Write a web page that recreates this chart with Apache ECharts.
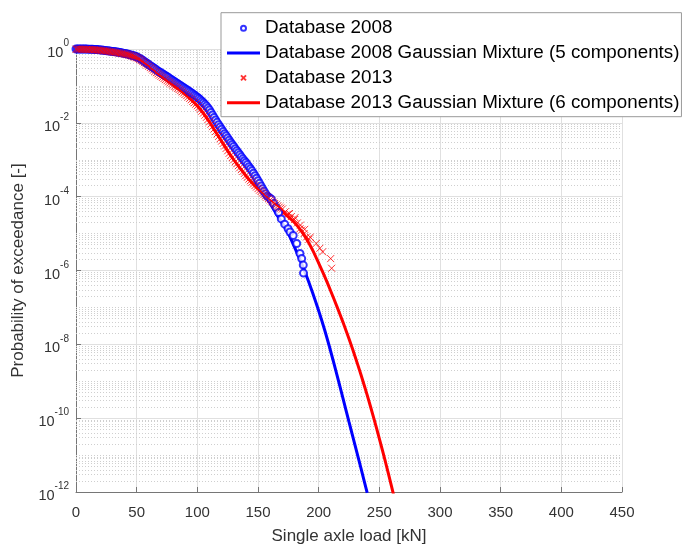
<!DOCTYPE html>
<html>
<head>
<meta charset="utf-8">
<script src="https://cdn.jsdelivr.net/npm/echarts@6/dist/echarts.min.js"></script>
<style>
html,body{margin:0;padding:0;background:#fff;}
#c{width:684px;height:550px;}
</style>
</head>
<body>
<div id="c"></div>
<script>
// ---- Data ----
const seriesNames = [
  'Database 2008',
  'Database 2008 Gaussian Mixture (5 components)',
  'Database 2013',
  'Database 2013 Gaussian Mixture (6 components)'
];

const xTicks = [0, 50, 100, 150, 200, 250, 300, 350, 400, 450];
const yTickExponents = [-12, -10, -8, -6, -4, -2, 0];

// Database 2008 empirical exceedance
const load2008 = [0,1.25,2.5,3.75,5,6.25,7.5,8.75,10,11.25,12.5,13.75,15,16.25,17.5,18.75,20,21.25,22.5,23.75,
  25,26.25,27.5,28.75,30,31.25,32.5,33.75,35,36.25,37.5,38.75,40,41.25,42.5,43.75,45,46.25,47.5,48.75,
  50,51.25,52.5,53.75,55,56.25,57.5,58.75,60,61.25,62.5,63.75,65,66.25,67.5,68.75,70,71.25,72.5,73.75,
  75,76.25,77.5,78.75,80,81.25,82.5,83.75,85,86.25,87.5,88.75,90,91.25,92.5,93.75,95,96.25,97.5,98.75,
  100,101.25,102.5,103.75,105,106.25,107.5,108.75,110,111.25,112.5,113.75,115,116.25,117.5,118.75,120,121.25,122.5,123.75,
  125,126.25,127.5,128.75,130,131.25,132.5,133.75,135,136.25,137.5,138.75,140,141.25,142.5,143.75,145,146.25,147.5,148.75,
  150,151.25,152.5,153.75,155,156.25,157.5,158.75,160,
  161,163,165,167,169.2,172,174.8,176.4,179,181.9,184.6,186,187.3,187.5];
const prob2008 = [1,1,1,1,1,0.999,0.998,0.995,0.992,0.989,
  0.985,0.98,0.975,0.969,0.962,0.954,0.946,0.936,0.925,0.914,
  0.903,0.893,0.882,0.871,0.86,0.849,0.838,0.825,0.812,0.8,
  0.787,0.773,0.758,0.743,0.728,0.71,0.69,0.673,0.655,0.635,
  0.612,0.585,0.555,0.525,0.495,0.462,0.432,0.404,0.378,0.353,
  0.33,0.31,0.29,0.272,0.255,0.24,0.226,0.213,0.2,0.189,
  0.179,0.168,0.157,0.148,0.139,0.13,0.122,0.115,0.108,0.101,
  0.095,0.089,0.084,0.079,0.074,0.069,0.065,0.061,0.057,0.053,
  0.0495,0.0457,0.042,0.0384,0.035,0.0317,0.0285,0.0252,0.0222,0.0191,
  0.0163,0.0139,0.0119,0.0103,0.0089,0.0077,0.0067,0.0058,0.0051,0.0045,
  0.0039,0.0034,0.00295,0.0026,0.0023,0.002,0.00175,0.00155,0.00137,0.0012,
  0.00106,9.4e-4,8.4e-4,7.4e-4,6.5e-4,5.7e-4,5.0e-4,4.3e-4,3.7e-4,3.15e-4,
  2.7e-4,2.3e-4,1.95e-4,1.65e-4,1.4e-4,1.2e-4,1.05e-4,9.7e-5,9.0e-5,
  8.5e-5,6.5e-5,5.1e-5,3.7e-5,2.5e-5,1.8e-5,1.35e-5,1.1e-5,8.9e-6,5.4e-6,2.9e-6,2.1e-6,1.4e-6,8.5e-7];

// Database 2008 Gaussian mixture fit (5 components)
const fitLoad2008 = [0,5,10,15,20,25,30,35,40,45,50,55,60,65,70,75,80,85,90,95,100,105,110,115,120,
  125,130,135,140,145,150,155,160,165,170,175,180,185,190,195,200,205,210,215,220,225,230,235,240];
const fitProb2008 = [1,1,0.989,0.973,0.944,0.902,0.861,0.813,0.759,0.692,0.617,0.490,0.380,0.288,0.224,0.178,0.138,0.107,0.0832,0.0646,
  0.0490,0.0347,0.0219,0.0117,0.0066,0.0038,0.00224,0.00135,8.3e-4,5.0e-4,2.63e-4,1.32e-4,6.6e-5,3.47e-5,1.91e-5,1.0e-5,
  4.37e-6,1.82e-6,7.1e-7,2.5e-7,8.1e-8,2.4e-8,6.3e-9,1.51e-9,3.5e-10,7.9e-11,1.82e-11,4.2e-12,9.5e-13];

// Database 2013 empirical exceedance
const load2013 = [0,1.25,2.5,3.75,5,6.25,7.5,8.75,10,11.25,12.5,13.75,15,16.25,17.5,18.75,20,21.25,22.5,23.75,
  25,26.25,27.5,28.75,30,31.25,32.5,33.75,35,36.25,37.5,38.75,40,41.25,42.5,43.75,45,46.25,47.5,48.75,
  50,51.25,52.5,53.75,55,56.25,57.5,58.75,60,61.25,62.5,63.75,65,66.25,67.5,68.75,70,71.25,72.5,73.75,
  75,76.25,77.5,78.75,80,81.25,82.5,83.75,85,86.25,87.5,88.75,90,91.25,92.5,93.75,95,96.25,97.5,98.75,
  100,101.25,102.5,103.75,105,106.25,107.5,108.75,110,111.25,112.5,113.75,115,116.25,117.5,118.75,120,121.25,122.5,123.75,
  125,126.25,127.5,128.75,130,131.25,132.5,133.75,135,136.25,137.5,138.75,140,141.25,142.5,143.75,145,146.25,147.5,148.75,
  150,151.25,152.5,153.75,155,156.25,157.5,158.75,160,161.25,162.5,163.75,165,166.25,167.5,168.75,170,
  172.5,175,176,177.5,180,180.5,182.5,184.6,185,186,188,188.5,190,192,193,198,201,203.3,209.9,210.7];
const prob2013 = [0.99,0.99,0.99,0.988,0.985,0.982,0.978,0.975,0.972,0.969,
  0.965,0.96,0.955,0.948,0.94,0.931,0.922,0.912,0.902,0.891,
  0.88,0.869,0.857,0.845,0.832,0.82,0.808,0.796,0.784,0.772,
  0.76,0.746,0.732,0.716,0.7,0.683,0.665,0.645,0.625,0.602,
  0.578,0.55,0.52,0.488,0.455,0.425,0.395,0.366,0.34,0.314,
  0.29,0.267,0.246,0.228,0.211,0.196,0.182,0.17,0.158,0.148,
  0.138,0.129,0.121,0.113,0.105,0.098,0.092,0.086,0.08,0.0745,
  0.069,0.064,0.059,0.0545,0.05,0.046,0.042,0.0384,0.035,0.032,
  0.029,0.026,0.0232,0.0206,0.0183,0.0161,0.0141,0.0123,0.0106,0.0092,
  0.0079,0.0068,0.0058,0.005,0.0043,0.0037,0.0032,0.00275,0.00236,0.00203,
  0.00175,0.0015,0.0013,0.00114,0.001,8.8e-4,7.8e-4,6.9e-4,6.1e-4,5.4e-4,
  4.8e-4,4.25e-4,3.75e-4,3.35e-4,3.0e-4,2.7e-4,2.45e-4,2.2e-4,2.0e-4,1.82e-4,
  1.65e-4,1.5e-4,1.38e-4,1.26e-4,1.15e-4,1.05e-4,9.7e-5,8.9e-5,8.2e-5,7.6e-5,
  7.0e-5,6.5e-5,6.0e-5,5.6e-5,5.2e-5,4.9e-5,4.6e-5,
  3.9e-5,3.4e-5,3.5e-5,2.9e-5,2.4e-5,2.7e-5,1.95e-5,1.35e-5,1.7e-5,1.25e-5,1.0e-5,1.3e-5,8.1e-6,7.0e-6,8.0e-6,5.4e-6,4.0e-6,3.2e-6,2.1e-6,1.15e-6];

// Database 2013 Gaussian mixture fit (6 components)
const fitLoad2013 = [0,5,10,15,20,25,30,35,40,45,50,55,60,65,70,75,80,85,90,95,100,105,110,115,120,
  125,130,135,140,145,150,155,160,165,170,175,180,185,190,195,200,205,210,215,220,225,230,235,240,245,250,255,260,265];
const fitProb2013 = [0.989,0.982,0.973,0.955,0.923,0.881,0.832,0.785,0.733,0.668,0.582,0.457,0.339,0.245,0.182,0.138,0.105,0.0794,0.0589,0.0417,
  0.0288,0.0182,0.0105,0.00575,0.00316,0.00174,0.0010,6.0e-4,3.7e-4,2.4e-4,1.62e-4,1.12e-4,7.9e-5,5.6e-5,3.98e-5,2.82e-5,2.0e-5,1.26e-5,
  7.1e-6,3.55e-6,1.58e-6,6.8e-7,2.75e-7,1.07e-7,4.0e-8,1.41e-8,4.7e-9,1.45e-9,4.2e-10,1.12e-10,2.8e-11,6.6e-12,1.45e-12,3.0e-13];

// ---- Build chart ----
function pairs(xs, ys){
  const n = Math.min(xs.length, ys.length);
  const out = [];
  for (let i = 0; i < n; i++) out.push([xs[i], ys[i]]);
  return out;
}

const xMin = xTicks[0], xMax = xTicks[xTicks.length - 1];

// minor dotted grid positions on the log axis (m x 10^k, skipping labelled decades)
const minorGrid = [];
for (let k = -12; k < 0; k++) {
  for (let m = 1; m <= 9; m++) {
    if (m === 1 && yTickExponents.indexOf(k) >= 0) continue;
    const v = m * Math.pow(10, k);
    minorGrid.push([{ coord: [xMin, v] }, { coord: [xMax, v] }]);
  }
}

const chart = echarts.init(document.getElementById('c'), null, {renderer: 'canvas'});
const FONT = 'Liberation Sans, Arial, Helvetica, sans-serif';
const lineIcon = 'path://M0,0H33V3H0Z';

chart.setOption({
  animation: false,
  backgroundColor: '#ffffff',
  textStyle: { fontFamily: FONT },
  grid: { left: 76, top: 49, width: 546, height: 450, containLabel: false },
  legend: {
    z: 10,
    data: [
      { name: seriesNames[0] },
      { name: seriesNames[1], icon: lineIcon },
      { name: seriesNames[2] },
      { name: seriesNames[3], icon: lineIcon }
    ],
    orient: 'vertical',
    left: 221,
    top: 12.7,
    padding: [5.6, 2, 4, 6],
    itemGap: 4.8,
    itemWidth: 33,
    itemHeight: 5,
    backgroundColor: '#ffffff',
    borderColor: '#999999',
    borderWidth: 1,
    borderRadius: 0,
    selectedMode: false,
    textStyle: { fontSize: 18.8, color: '#000000', lineHeight: 20, fontFamily: FONT }
  },
  xAxis: {
    type: 'value',
    min: xMin,
    max: xMax,
    interval: 50,
    name: 'Single axle load [kN]',
    nameLocation: 'middle',
    nameGap: 36,
    nameTextStyle: { fontSize: 17, color: '#333333', fontFamily: FONT },
    axisLine: { show: true, lineStyle: { color: '#767676', width: 1 } },
    axisTick: { show: true, inside: true, length: 5, lineStyle: { color: '#767676' } },
    axisLabel: { fontSize: 15, color: '#333333', margin: 13, fontFamily: FONT },
    splitLine: { show: true, lineStyle: { color: '#e0e0e0', width: 1 } }
  },
  yAxis: {
    type: 'log',
    logBase: 10,
    min: Math.pow(10, yTickExponents[0]),
    max: Math.pow(10, yTickExponents[yTickExponents.length - 1]),
    interval: 2,
    name: 'Probability of exceedance [-]',
    nameLocation: 'middle',
    nameGap: 49,
    nameRotate: 90,
    nameTextStyle: { fontSize: 17, color: '#333333', fontFamily: FONT },
    axisLine: { show: true, lineStyle: { color: '#767676', width: 1 } },
    axisTick: { show: true, inside: true, length: 5, lineStyle: { color: '#767676' } },
    axisLabel: {
      margin: 7,
      padding: [8, 0, 0, 0],
      formatter: function (v) {
        const e = Math.round(Math.log10(v));
        return '{b|10}{s|' + e + '}';
      },
      rich: {
        b: { fontSize: 14.5, color: '#333333', verticalAlign: 'middle', fontFamily: FONT },
        s: { fontSize: 10, color: '#333333', lineHeight: 10, padding: [0, 0, 19, 0], verticalAlign: 'middle', fontFamily: FONT }
      }
    },
    splitLine: { show: true, lineStyle: { color: '#e0e0e0', width: 1 } }
  },
  series: [
    {
      name: '_minorgrid',
      type: 'line',
      data: [],
      z: 0,
      silent: true,
      markLine: {
        z: 1,
        silent: true,
        symbol: 'none',
        label: { show: false },
        lineStyle: { color: '#cfcfcf', width: 1, type: [1, 2] },
        data: minorGrid
      }
    },
    {
      name: seriesNames[0],
      type: 'scatter',
      z: 2,
      data: pairs(load2008, prob2008),
      symbol: 'emptyCircle',
      symbolSize: 7,
      itemStyle: { color: '#0000ff', borderColor: '#0000ff', borderWidth: 1 }
    },
    {
      name: seriesNames[1],
      type: 'line',
      z: 2,
      data: pairs(fitLoad2008, fitProb2008),
      symbol: 'none',
      smooth: 0.3,
      lineStyle: { color: '#0000ff', width: 3 },
      itemStyle: { color: '#0000ff' }
    },
    {
      name: seriesNames[2],
      type: 'scatter',
      z: 2,
      data: pairs(load2013, prob2013),
      symbol: 'path://M0,0L10,10M10,0L0,10',
      symbolSize: 7,
      itemStyle: { color: 'rgba(255,0,0,0)', borderColor: '#ff0000', borderWidth: 1 }
    },
    {
      name: seriesNames[3],
      type: 'line',
      z: 2,
      data: pairs(fitLoad2013, fitProb2013),
      symbol: 'none',
      smooth: 0.3,
      lineStyle: { color: '#ff0000', width: 3 },
      itemStyle: { color: '#ff0000' }
    }
  ]
});
</script>
</body>
</html>
